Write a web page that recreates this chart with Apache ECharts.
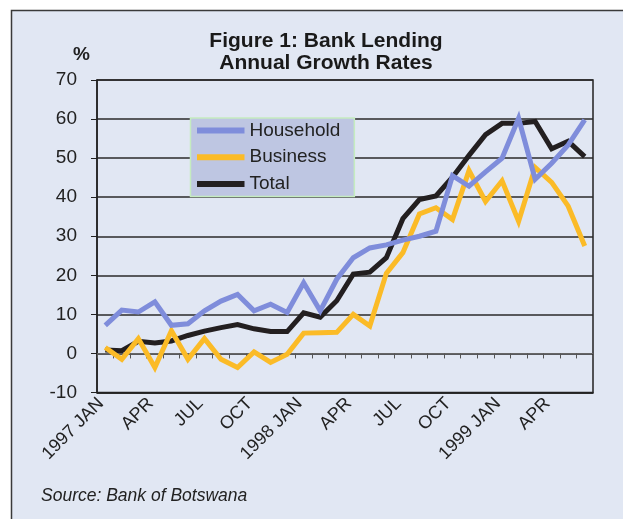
<!DOCTYPE html>
<html>
<head>
<meta charset="utf-8">
<script src="https://cdn.jsdelivr.net/npm/echarts@6/dist/echarts.min.js"></script>
<style>
html,body{margin:0;padding:0;background:#ffffff;}
#chart{width:623px;height:519px;}
</style>
</head>
<body>
<div id="chart"></div>
<script>
const months = ['1997 JAN','FEB','MAR','APR','MAY','JUN','JUL','AUG','SEP','OCT','NOV','DEC',
  '1998 JAN','FEB','MAR','APR','MAY','JUN','JUL','AUG','SEP','OCT','NOV','DEC',
  '1999 JAN','FEB','MAR','APR','MAY','JUN'];
const household = [7.2,11.1,10.6,13.2,7.2,7.6,10.9,13.4,15.1,10.9,12.6,10.5,
  18.1,10.9,19.0,24.5,27.0,27.8,29.0,30.0,31.3,45.5,42.8,46.5,50.0,60.2,44.6,48.7,53.4,59.8];
const business = [1.5,-1.5,3.8,-3.6,5.8,-1.5,3.8,-1.5,-3.6,0.4,-2.3,-0.2,
  5.2,5.3,5.4,10.0,7.0,20.5,25.8,35.7,37.3,34.3,46.8,38.9,44.2,33.8,47.6,43.8,37.7,27.5];
const total = [0.9,0.7,3.1,2.7,3.2,4.6,5.7,6.6,7.4,6.3,5.6,5.6,
  10.4,9.3,13.5,20.3,20.8,24.5,34.5,39.4,40.3,45.1,50.7,56.0,58.9,58.9,59.4,52.4,54.3,50.4];
const yTicks = {min:-10, max:70, step:10};
const titleLines = ['Figure 1: Bank Lending','Annual Growth Rates'];
const unitLabel = '%';
const sourceText = 'Source: Bank of Botswana';

const FONT = "'Liberation Sans', Arial, sans-serif";
const chart = echarts.init(document.getElementById('chart'), null, {renderer:'canvas'});
const option = {
  backgroundColor: 'transparent',
  animation: false,
  graphic: [
    {type:'rect', z:-10, silent:true,
     shape:{x:11.5, y:10.5, width:640, height:540},
     style:{fill:'#e1e7f3', stroke:'#3a3a3a', lineWidth:1.5}},
    {type:'text', left:41, top:487, style:{text:sourceText, font:'italic 17.5px '+FONT, fill:'#222'}},
    {type:'text', left:73, top:45, style:{text:unitLabel, font:'bold 19px '+FONT, fill:'#222'}}
  ],
  title: {
    text: titleLines.join('\n'),
    left: 321, top: 25, textAlign:'center',
    textStyle:{fontFamily:FONT, fontWeight:'bold', fontSize:21, lineHeight:22, color:'#1a1a1a'}
  },
  legend: {
    orient:'vertical', left:190.5, top:118,
    data:['Household','Business','Total'],
    backgroundColor:'#bec6e2', borderColor:'#c5ecc0', borderWidth:1.5,
    padding:[3,14,3,6.5], itemGap:7.7, itemWidth:47.5, itemHeight:6, icon:'rect',
    textStyle:{fontFamily:FONT, fontSize:19, color:'#222'}
  },
  grid: {left:97, right:30, top:80, bottom:126.5, show:true, borderColor:'#222', borderWidth:1.5},
  xAxis: [
    {type:'category', data:months, boundaryGap:true,
     axisLine:{onZero:false, lineStyle:{color:'#222', width:1.5}},
     axisTick:{show:false},
     axisLabel:{interval:(i)=>i%3===0, rotate:45, margin:4, padding:[0,6,0,0],
       fontFamily:FONT, fontSize:18, color:'#222'}},
    {type:'category', data:months, boundaryGap:true, position:'bottom',
     axisLine:{show:true, onZero:true, lineStyle:{color:'#666', width:1}},
     axisTick:{show:true, interval:0, length:5, lineStyle:{color:'#555', width:1}},
     axisLabel:{show:false}}
  ],
  yAxis: {
    type:'value', min:yTicks.min, max:yTicks.max, interval:yTicks.step,
    axisLine:{show:true, lineStyle:{color:'#222', width:1.5}},
    axisTick:{show:true, length:6, lineStyle:{color:'#222'}},
    axisLabel:{margin:20, fontFamily:FONT, fontSize:19, color:'#222'},
    splitLine:{lineStyle:{color:'#2a2a2a', width:1.5}}
  },
  series: [
    {name:'Total', type:'line', data:total, symbol:'none', xAxisIndex:0,
     color:'#231f20', lineStyle:{width:5, color:'#231f20', join:'miter'}},
    {name:'Business', type:'line', data:business, symbol:'none', xAxisIndex:0,
     color:'#fbbb27', lineStyle:{width:5, color:'#fbbb27', join:'miter'}},
    {name:'Household', type:'line', data:household, symbol:'none', xAxisIndex:0,
     color:'#7f8ddb', lineStyle:{width:5, color:'#7f8ddb', join:'miter'}}
  ]
};
chart.setOption(option);
</script>
</body>
</html>
